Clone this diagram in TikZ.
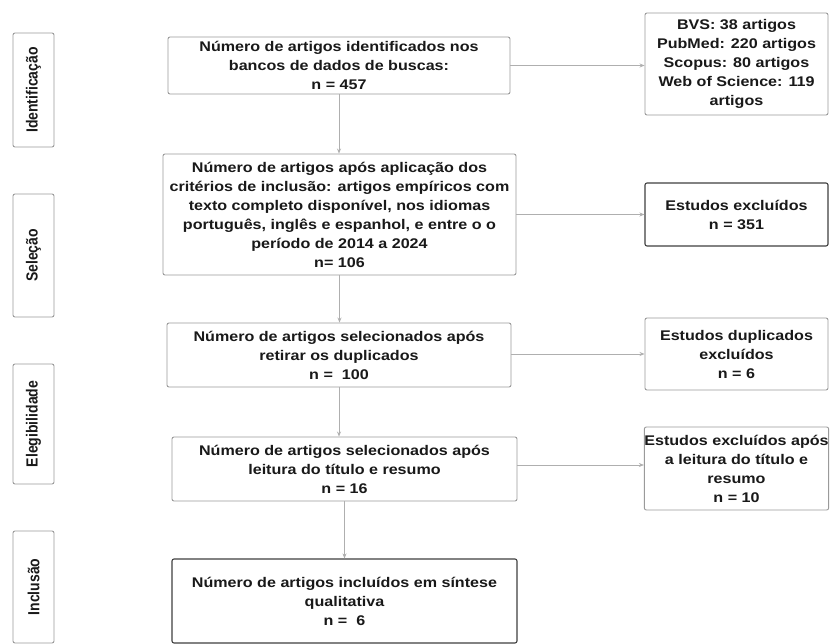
\documentclass[tikz,border=0pt]{standalone}
\usepackage{fontspec}
\setmainfont{Liberation Sans}[FakeStretch=1.15]
\newfontfamily\stagefont{Liberation Sans}
\usetikzlibrary{arrows.meta}
\definecolor{boxgray}{HTML}{9A9A9A}
\definecolor{boxdark}{HTML}{404040}
\definecolor{linegray}{HTML}{AFAFAF}
\newcommand{\stagelabel}[1]{\scalebox{1}[1.15]{#1}}
\tikzset{
  x=1pt, y=-1pt,
  box/.style={draw=boxgray, line width=0.9pt, rounded corners=2pt, inner sep=0pt, align=center,
    font=\fontsize{14}{19}\selectfont\bfseries, text=black!90},
  darkbox/.style={box, draw=boxdark, line width=1.1pt},
  stage/.style={draw=boxgray, line width=0.9pt, rounded corners=2pt, inner sep=0pt,
    minimum width=41pt},
  stagetext/.style={rotate=90, inner sep=0pt, text=black!90, font=\stagefont\fontsize{14}{16}\selectfont\bfseries},
  arr/.style={draw=linegray, line width=0.8pt, -{Stealth[length=5pt,width=4pt]}}
}
\begin{document}
\begin{tikzpicture}
\useasboundingbox[fill=white] (0,0) rectangle (830,644);
% stage boxes
\node[stage, minimum height=114pt] (s1) at (33.5,90) {};
\node[stagetext] (t1) at (s1.center) {\stagelabel{Identificação}};
\node[stage, minimum height=123pt] (s2) at (33.5,255.5) {};
\node[stagetext] (t2) at (s2.center) {\stagelabel{Seleção}};
\node[stage, minimum height=120pt] (s3) at (33.5,424) {};
\node[stagetext] (t3) at (s3.center) {\stagelabel{Elegibilidade}};
\node[stage, minimum height=112pt] (s4) at (33.5,587) {};
\node[stagetext] (t4) at (s4.center) {\stagelabel{Inclusão}};
% main column
\node[box, minimum width=342pt, minimum height=57pt] (b1) at (339,65.5)
  {Número de artigos identificados nos\\ bancos de dados de buscas:\\ n = 457};
\node[box, minimum width=353pt, minimum height=121pt] (b2) at (339.5,214.5)
  {Número de artigos após aplicação dos\\ critérios de inclusão: artigos empíricos com\\ texto completo disponível, nos idiomas\\ português, inglês e espanhol, e entre o o\\ período de 2014 a 2024\\ n= 106};
\node[box, minimum width=344pt, minimum height=64pt] (b3) at (339,355)
  {Número de artigos selecionados após\\ retirar os duplicados\\ n =~~100};
\node[box, minimum width=345pt, minimum height=64pt] (b4) at (344.5,469)
  {Número de artigos selecionados após\\ leitura do título e resumo\\ n = 16};
\node[darkbox, minimum width=345pt, minimum height=84pt] (b5) at (344.5,601)
  {Número de artigos incluídos em síntese\\ qualitativa\\ n =~~6};
% right column
\node[box, minimum width=183pt, minimum height=102pt] (r1) at (736.5,64)
  {BVS: 38 artigos\\ PubMed: 220 artigos\\ Scopus: 80 artigos\\ Web of Science: 119\\ artigos};
\node[darkbox, minimum width=183pt, minimum height=63pt] (r2) at (736.5,214.5)
  {Estudos excluídos\\ n = 351};
\node[box, minimum width=183pt, minimum height=72pt] (r3) at (736.5,354)
  {Estudos duplicados\\ excluídos\\ n = 6};
\node[box, minimum width=183pt, minimum height=83pt] (r4) at (736.5,468.5)
  {Estudos excluídos após\\ a leitura do título e\\ resumo\\ n = 10};
% vertical arrows
\draw[arr] (b1.south) -- (b1.south |- b2.north);
\draw[arr] (b2.south) -- (b2.south |- b3.north);
\draw[arr] (b3.south) -- (b3.south |- b4.north);
\draw[arr] (b4.south) -- (b4.south |- b5.north);
% horizontal arrows
\draw[arr] (b1.east) -- (b1.east -| r1.west);
\draw[arr] (b2.east) -- (b2.east -| r2.west);
\draw[arr] ([yshift=1pt]b3.east) -- ([yshift=1pt]b3.east -| r3.west);
\draw[arr] ([yshift=4pt]b4.east) -- ([yshift=4pt]b4.east -| r4.west);
\end{tikzpicture}
\end{document}
